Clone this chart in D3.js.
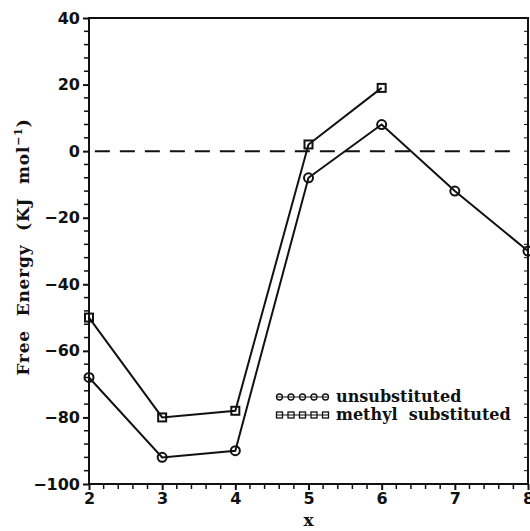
<!DOCTYPE html>
<html>
<head>
<meta charset="utf-8">
<script src="https://cdn.jsdelivr.net/npm/d3@7"></script>
<style>
  body { margin: 0; background: #fff; }
  svg { display: block; }
</style>
</head>
<body>
<svg id="chart" width="530" height="531"></svg>
<script>
// values
var xUnsub = [2, 3, 4, 5, 6, 7, 8];
var yUnsub = [-68, -92, -90, -8, 8, -12, -30];
var xMethyl = [2, 3, 4, 5, 6];
var yMethyl = [-50, -80, -78, 2, 19];
var xTicks = [2, 3, 4, 5, 6, 7, 8];
var yTicks = [-100, -80, -60, -40, -20, 0, 20, 40];
var legendLabels = ['unsubstituted', 'methyl  substituted'];

var svg = d3.select('#chart');
var m = {left: 89, right: 528, top: 18, bottom: 484};

var x = d3.scaleLinear().domain([2, 8]).range([m.left, m.right]);
var y = d3.scaleLinear().domain([-100, 40]).range([m.bottom, m.top]);

var ink = '#111';
var tickFont = 'DejaVu Sans, sans-serif';
var labFont = 'DejaVu Serif, serif';

// frame
svg.append('rect')
    .attr('x', m.left).attr('y', m.top)
    .attr('width', m.right - m.left).attr('height', m.bottom - m.top)
    .attr('fill', 'none').attr('stroke', ink).attr('stroke-width', 2);

// left axis
var yAxis = d3.axisLeft(y).tickValues(yTicks).tickSize(6).tickPadding(3)
    .tickFormat(function(d){ return d < 0 ? '\u2212' + Math.abs(d) : d; });
var gy = svg.append('g').attr('transform', 'translate(' + m.left + ',0)').call(yAxis);
gy.select('.domain').remove();
gy.selectAll('line').attr('stroke', ink).attr('stroke-width', 2);
gy.selectAll('text').attr('font-family', tickFont).attr('font-size', 16)
    .attr('font-weight', 600).attr('fill', ink);

// minor y ticks, every 4
var yMinor = d3.range(-100, 41, 4).filter(function(d){ return yTicks.indexOf(d) < 0; });
svg.append('g').selectAll('line').data(yMinor).enter().append('line')
    .attr('x1', m.left - 5).attr('x2', m.left)
    .attr('y1', function(d){ return y(d); }).attr('y2', function(d){ return y(d); })
    .attr('stroke', ink).attr('stroke-width', 1.5);
svg.append('g').selectAll('line').data(d3.range(-100, 41, 4)).enter().append('line')
    .attr('x1', m.right - 4).attr('x2', m.right)
    .attr('y1', function(d){ return y(d); }).attr('y2', function(d){ return y(d); })
    .attr('stroke', ink).attr('stroke-width', 1);

// bottom axis
var xAxis = d3.axisBottom(x).tickValues(xTicks).tickSize(6).tickPadding(3)
    .tickFormat(d3.format('d'));
var gx = svg.append('g').attr('transform', 'translate(0,' + m.bottom + ')').call(xAxis);
gx.select('.domain').remove();
gx.selectAll('line').attr('stroke', ink).attr('stroke-width', 2);
gx.selectAll('text').attr('font-family', tickFont).attr('font-size', 16)
    .attr('font-weight', 600).attr('fill', ink);

var xMinor = d3.range(2, 8.001, 0.2).filter(function(d){ return Math.abs(d - Math.round(d)) > 0.01; });
svg.append('g').selectAll('line').data(xMinor).enter().append('line')
    .attr('x1', function(d){ return x(d); }).attr('x2', function(d){ return x(d); })
    .attr('y1', m.bottom).attr('y2', m.bottom + 5)
    .attr('stroke', ink).attr('stroke-width', 1.5);

// axis titles
svg.append('text')
    .attr('x', x(5)).attr('y', 526)
    .attr('text-anchor', 'middle')
    .attr('font-family', labFont).attr('font-weight', 'bold').attr('font-size', 17)
    .attr('fill', ink).text('x');

var yt = svg.append('text')
    .attr('transform', 'translate(29,247) rotate(-90)')
    .attr('text-anchor', 'middle')
    .attr('font-family', labFont).attr('font-weight', 'bold').attr('font-size', 17)
    .attr('letter-spacing', 0.8).attr('word-spacing', 7)
    .attr('fill', ink);
yt.append('tspan').text('Free Energy (KJ mol');
yt.append('tspan').attr('dy', -7).attr('font-size', 11).text('\u22121');
yt.append('tspan').attr('dy', 7).text(')');

// zero reference line
svg.append('line')
    .attr('x1', x(2.08)).attr('x2', x(7.88))
    .attr('y1', y(0)).attr('y2', y(0))
    .attr('stroke', ink).attr('stroke-width', 2)
    .attr('stroke-dasharray', '15,10');

// series
var line = d3.line()
    .x(function(d){ return x(d[0]); })
    .y(function(d){ return y(d[1]); });

var unsub = d3.zip(xUnsub, yUnsub);
var methyl = d3.zip(xMethyl, yMethyl);

svg.append('path').datum(unsub).attr('d', line)
    .attr('fill', 'none').attr('stroke', ink).attr('stroke-width', 2);
svg.append('path').datum(methyl).attr('d', line)
    .attr('fill', 'none').attr('stroke', ink).attr('stroke-width', 2);

svg.append('g').selectAll('circle').data(unsub).enter().append('circle')
    .attr('cx', function(d){ return x(d[0]); })
    .attr('cy', function(d){ return y(d[1]); })
    .attr('r', 4.5)
    .attr('fill', 'none').attr('stroke', ink).attr('stroke-width', 2);

svg.append('g').selectAll('rect').data(methyl).enter().append('rect')
    .attr('x', function(d){ return x(d[0]) - 4; })
    .attr('y', function(d){ return y(d[1]) - 4; })
    .attr('width', 8).attr('height', 8)
    .attr('fill', 'none').attr('stroke', ink).attr('stroke-width', 2);

// legend
var lx0 = 277, lx1 = 328, ly = [397, 415];
legendLabels.forEach(function(lab, i) {
  var g = svg.append('g');
  g.append('line').attr('x1', lx0).attr('x2', lx1).attr('y1', ly[i]).attr('y2', ly[i])
      .attr('stroke', ink).attr('stroke-width', 1.2);
  var pts = d3.range(5).map(function(k){ return lx0 + 2.5 + k * (lx1 - lx0 - 5) / 4; });
  if (i === 0) {
    g.selectAll('circle').data(pts).enter().append('circle')
        .attr('cx', function(d){ return d; }).attr('cy', ly[i]).attr('r', 3)
        .attr('fill', 'none').attr('stroke', ink).attr('stroke-width', 1.3);
  } else {
    g.selectAll('rect').data(pts).enter().append('rect')
        .attr('x', function(d){ return d - 3; }).attr('y', ly[i] - 3)
        .attr('width', 6).attr('height', 6)
        .attr('fill', 'none').attr('stroke', ink).attr('stroke-width', 1.3);
  }
  g.append('text').attr('x', 336).attr('y', ly[i] + 5)
      .attr('font-family', labFont).attr('font-weight', 'bold').attr('font-size', 16)
      .attr('fill', ink).attr('xml:space', 'preserve').style('white-space', 'pre').text(lab);
});
</script>
</body>
</html>
